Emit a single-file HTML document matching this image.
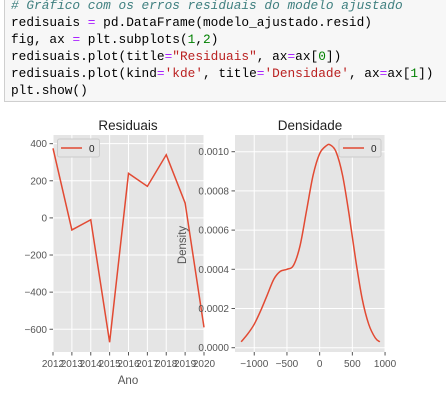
<!DOCTYPE html>
<html><head><meta charset="utf-8"><style>
body{margin:0;width:446px;height:410px;background:#fff;overflow:hidden;font-family:"Liberation Sans",sans-serif}
#code{position:absolute;left:4px;top:-4px;width:450px;height:106px;background:#f7f7f7;border:1px solid #cfcfcf;box-sizing:border-box}
#code pre{margin:0;position:absolute;left:6px;top:0;font:12.8px/17px "Liberation Mono",monospace;color:#000}
.c{color:#408080;font-style:italic}.o{color:#aa22ff}.s{color:#ba2121}.n{color:#008000}
svg{position:absolute;left:0;top:0}
</style></head><body>
<div id="code"><pre><span class="c"># Gráfico com os erros residuais do modelo ajustado</span>
redisuais <span class="o">=</span> pd.DataFrame(modelo_ajustado.resid)
fig, ax <span class="o">=</span> plt.subplots(<span class="n">1</span>,<span class="n">2</span>)
redisuais.plot(title<span class="o">=</span><span class="s">"Residuais"</span>, ax<span class="o">=</span>ax[<span class="n">0</span>])
redisuais.plot(kind<span class="o">=</span><span class="s">'kde'</span>, title<span class="o">=</span><span class="s">'Densidade'</span>, ax<span class="o">=</span>ax[<span class="n">1</span>])
plt.show()</pre></div>
<svg id="svg" width="446" height="410" xmlns="http://www.w3.org/2000/svg" font-family="Liberation Sans, sans-serif"></svg>
<script>
const years=[2012,2013,2014,2015,2016,2017,2018,2019,2020];
const resid=[375,-65,-10,-670,240,170,340,80,-590];
const resYTicks=[400,200,0,-200,-400,-600];
const kdeX=[-1200,-1100,-1000,-900,-800,-700,-600,-500,-400,-300,-200,-100,0,100,160,250,350,450,550,650,750,850,920];
const kdeY=[0.00003,0.00007,0.00012,0.00019,0.00027,0.00035,0.00039,0.0004,0.00042,0.00052,0.0007,0.00088,0.00099,0.00103,0.001035,0.001,0.00088,0.00068,0.00045,0.00025,0.00012,0.00005,0.00003];
const kdeXTicks=[-1000,-500,0,500,1000];
const kdeYTicks=[0,0.0002,0.0004,0.0006,0.0008,0.0010];
const svg=document.getElementById('svg');const NS='http://www.w3.org/2000/svg';
function mk(t,a,p,txt){const e=document.createElementNS(NS,t);for(const k in a)e.setAttribute(k,a[k]);if(txt!==undefined)e.textContent=txt;(p||svg).appendChild(e);return e;}
function smooth(pts){let d='M'+pts[0][0]+','+pts[0][1];for(let i=0;i<pts.length-1;i++){const p0=pts[Math.max(0,i-1)],p1=pts[i],p2=pts[i+1],p3=pts[Math.min(pts.length-1,i+2)];
 const c1=[p1[0]+(p2[0]-p0[0])/6,p1[1]+(p2[1]-p0[1])/6],c2=[p2[0]-(p3[0]-p1[0])/6,p2[1]-(p3[1]-p1[1])/6];
 d+=' C'+c1[0]+','+c1[1]+' '+c2[0]+','+c2[1]+' '+p2[0]+','+p2[1];}return d;}
// Left
const L={x0:53,x1:204,y0:135,y1:352};
const lx=v=>53+(v-2012)*(151/8);
const ly=v=>217.9-v*0.1856;
let g=mk('g',{});
let bg=mk('rect',{x:L.x0,y:L.y0,width:L.x1-L.x0,height:L.y1-L.y0,fill:'#e5e5e5'},g);

years.forEach(y=>{let x=lx(y);mk('line',{x1:x,x2:x,y1:L.y0,y2:L.y1,stroke:'#fff','stroke-width':1},g);
 mk('line',{x1:x,x2:x,y1:L.y1,y2:L.y1+3.5,stroke:'#555'},g);
 let t=mk('text',{x:x,y:L.y1+15,'font-size':10,fill:'#555','text-anchor':'middle'},g,String(y));
 });
resYTicks.forEach(v=>{let y=ly(v);mk('line',{x1:L.x0,x2:L.x1,y1:y,y2:y,stroke:'#fff'},g);
 mk('line',{x1:L.x0-3.5,x2:L.x0,y1:y,y2:y,stroke:'#555'},g);
 let t=mk('text',{x:L.x0-6,y:y+3.5,'font-size':10,fill:'#555','text-anchor':'end'},g,v<0?'\u2212'+(-v):String(v));
 });
let p=mk('polyline',{points:years.map((y,i)=>lx(y)+','+ly(resid[i])).join(' '),fill:'none',stroke:'#e24a33','stroke-width':1.5},g);

let t1=mk('text',{x:128,y:130,'font-size':13.5,fill:'#222','text-anchor':'middle'},g,'Residuais');

let xt=mk('text',{x:128,y:384,'font-size':11.5,fill:'#555','text-anchor':'middle'},g,'Ano');

let lg=mk('g',{},g);
mk('rect',{x:57.5,y:139,width:42,height:18,rx:2,fill:'#e5e5e5',stroke:'#ccc'},lg);
mk('line',{x1:61,x2:82,y1:148,y2:148,stroke:'#e24a33','stroke-width':1.5},lg);
mk('text',{x:89,y:152,'font-size':10,fill:'#222'},lg,'0');
// Right
const R={x0:235,x1:385,y0:135,y1:352};
const rx=v=>319.65+v*(32.7/500);
const ry=v=>347.7-v*196000;
let g2=mk('g',{});
let bg2=mk('rect',{x:R.x0,y:R.y0,width:R.x1-R.x0,height:R.y1-R.y0,fill:'#e5e5e5'},g2);

kdeXTicks.forEach(v=>{let x=rx(v);mk('line',{x1:x,x2:x,y1:R.y0,y2:R.y1,stroke:'#fff'},g2);
 mk('line',{x1:x,x2:x,y1:R.y1,y2:R.y1+3.5,stroke:'#555'},g2);
 let t=mk('text',{x:x,y:R.y1+15,'font-size':10,fill:'#555','text-anchor':'middle'},g2,v<0?'\u2212'+(-v):String(v));
 });
kdeYTicks.forEach(v=>{let y=ry(v);mk('line',{x1:R.x0,x2:R.x1,y1:y,y2:y,stroke:'#fff'},g2);
 mk('line',{x1:R.x0-3.5,x2:R.x0,y1:y,y2:y,stroke:'#555'},g2);
 let t=mk('text',{x:R.x0-6,y:y+3.5,'font-size':10,fill:'#555','text-anchor':'end'},g2,v.toFixed(4));
 });
let k=mk('path',{d:smooth(kdeX.map((x,i)=>[rx(x),ry(kdeY[i])])),fill:'none',stroke:'#e24a33','stroke-width':1.5,'stroke-linejoin':'round'},g2);

let t2=mk('text',{x:310,y:130,'font-size':13.5,fill:'#222','text-anchor':'middle'},g2,'Densidade');

let yt=mk('text',{x:0,y:0,'font-size':11.5,fill:'#555','text-anchor':'middle',transform:'translate(186,245) rotate(-90)'},g2,'Density');

let lg2=mk('g',{},g2);
mk('rect',{x:339,y:139,width:42,height:18,rx:2,fill:'#e5e5e5',stroke:'#ccc'},lg2);
mk('line',{x1:343,x2:364,y1:148,y2:148,stroke:'#e24a33','stroke-width':1.5},lg2);
mk('text',{x:371,y:152,'font-size':10,fill:'#222'},lg2,'0');
</script>
</body></html>
